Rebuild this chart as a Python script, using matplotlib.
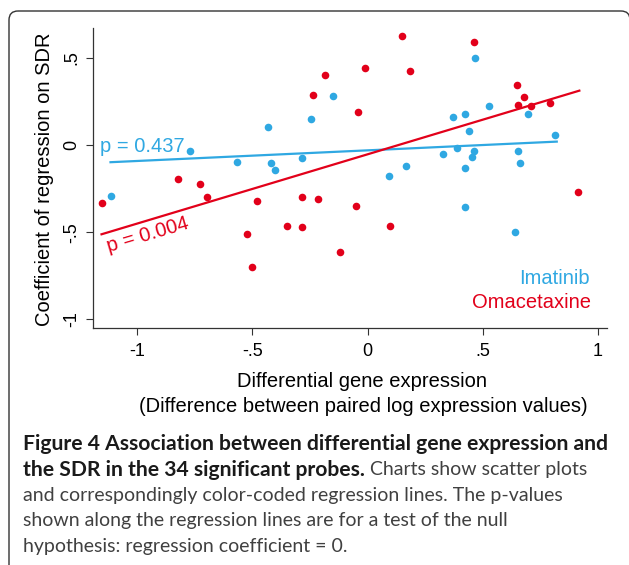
import matplotlib
matplotlib.use("Agg")
import matplotlib.pyplot as plt
from matplotlib.patches import FancyBboxPatch

# Imatinib probes (blue)
ima_x = [-1.113, -0.770, -0.566, -0.433, -0.420, -0.401, -0.283, -0.244, -0.151,
         0.093, 0.168, 0.329, 0.370, 0.390, 0.422, 0.425, 0.424, 0.439, 0.452,
         0.461, 0.467, 0.529, 0.641, 0.652, 0.661, 0.695, 0.814]
ima_y = [-0.291, -0.034, -0.095, 0.105, -0.105, -0.143, -0.075, 0.147, 0.279,
         -0.178, -0.123, -0.050, 0.159, -0.019, 0.176, -0.135, -0.357, 0.080, -0.067,
         -0.036, 0.497, 0.222, -0.500, -0.034, -0.103, 0.178, 0.059]

# Omacetaxine probes (red)
oma_x = [-1.154, -0.821, -0.727, -0.695, -0.523, -0.501, -0.478, -0.348, -0.286,
         -0.284, -0.238, -0.213, -0.183, -0.119, -0.049, -0.041, -0.012, 0.098,
         0.150, 0.186, 0.461, 0.649, 0.653, 0.681, 0.711, 0.793, 0.912]
oma_y = [-0.334, -0.197, -0.225, -0.298, -0.508, -0.699, -0.323, -0.462, -0.299,
         -0.468, 0.287, -0.309, 0.399, -0.615, -0.348, 0.187, 0.440, -0.464,
         0.625, 0.426, 0.590, 0.341, 0.230, 0.272, 0.222, 0.242, -0.268]

# regression lines, end points
ima_fit_x = [-1.115, 0.821]
ima_fit_y = [-0.099, 0.019]
oma_fit_x = [-1.154, 0.919]
oma_fit_y = [-0.512, 0.311]

ima_p = 'p = 0.437'
oma_p = 'p = 0.004'

xticks = [-1, -0.5, 0, 0.5, 1]
xtick_labels = ['-1', '-.5', '0', '.5', '1']
yticks = [-1, -0.5, 0, 0.5]
ytick_labels = ['-1', '-.5', '0', '.5']

BLUE = '#2fa8e2'
RED = '#e2001a'

plt.rcParams['font.family'] = ['Liberation Sans', 'DejaVu Sans']

fig = plt.figure(figsize=(6.29, 5.65), dpi=100)

# rounded frame around everything (pixel coordinates)
bg = fig.add_axes([0, 0, 1, 1])
bg.set_xlim(0, 629)
bg.set_ylim(565, 0)
bg.axis('off')
bg.add_patch(FancyBboxPatch((9, 11), 621, 600,
                            boxstyle='round,pad=0,rounding_size=9',
                            fc='none', ec='#333333', lw=1.0))

ax = fig.add_axes([93/629, 1-328/565, (607-93)/629, 300/565])
ax.set_facecolor('none')
ax.set_xlim(-1.191, 1.039)
ax.set_ylim(-1.049, 0.670)
for s in ['top', 'right']:
    ax.spines[s].set_visible(False)
for s in ['left', 'bottom']:
    ax.spines[s].set_color('#333333')
    ax.spines[s].set_linewidth(0.9)

ax.scatter(ima_x, ima_y, s=30, c=BLUE, lw=0, zorder=3)
ax.scatter(oma_x, oma_y, s=30, c=RED, lw=0, zorder=3)
ax.plot(ima_fit_x, ima_fit_y, color=BLUE, lw=1.6, zorder=2)
ax.plot(oma_fit_x, oma_fit_y, color=RED, lw=1.6, zorder=2)

ax.text(-1.161, -0.038, ima_p, color=BLUE, fontsize=14.5, ha='left', va='baseline')
ax.text(-1.122, -0.617, oma_p, color=RED, fontsize=14.5, ha='left', va='baseline',
        rotation=16.5, rotation_mode='anchor')

ax.text(0.962, -0.797, 'Imatinib', color=BLUE, fontsize=14.5, ha='right', va='baseline')
ax.text(0.968, -0.936, 'Omacetaxine', color=RED, fontsize=14.5, ha='right', va='baseline')

ax.set_xticks(xticks)
ax.set_xticklabels(xtick_labels)
ax.set_yticks(yticks)
ax.set_yticklabels(ytick_labels, rotation=90, va='center')
ax.tick_params(axis='x', direction='out', length=5, width=0.8, color='#333333',
               labelsize=13, pad=6)
ax.tick_params(axis='y', direction='out', length=5, width=0.8, color='#333333',
               labelsize=13, pad=4)

fig.text(45/629, 1-179/565, 'Coefficient of regression on SDR', rotation=90,
         ha='center', va='center', fontsize=14.5)
fig.text(362/629, 1-387/565, 'Differential gene expression',
         ha='center', va='baseline', fontsize=14.5)
fig.text(363/629, 1-412/565, '(Difference between paired log expression values)',
         ha='center', va='baseline', fontsize=14.5)

# caption
cap_font = 'Lato'
bold_size = 15.2
reg_size = 14.0
fig.text(23/629, 1-450/565, 'Figure 4 Association between differential gene expression and',
         fontfamily=cap_font, fontweight='bold', fontsize=bold_size, color='#1a1a1a',
         ha='left', va='baseline')
bold2 = fig.text(23/629, 1-475.5/565, 'the SDR in the 34 significant probes.',
                 fontfamily=cap_font, fontweight='bold', fontsize=bold_size, color='#1a1a1a',
                 ha='left', va='baseline')
r = fig.canvas.get_renderer()
bb = bold2.get_window_extent(renderer=r)
fig.text((bb.x1 + 5)/629, 1-475.5/565, 'Charts show scatter plots',
         fontfamily=cap_font, fontsize=reg_size, color='#404040', ha='left', va='baseline')
rest = ['and correspondingly color-coded regression lines. The p-values',
        'shown along the regression lines are for a test of the null',
        'hypothesis: regression coefficient = 0.']
for i, line in enumerate(rest):
    fig.text(23/629, 1-(501 + 25.4*i)/565, line, fontfamily=cap_font, fontsize=reg_size,
             color='#404040', ha='left', va='baseline')

fig.savefig('out.png', dpi=100)
